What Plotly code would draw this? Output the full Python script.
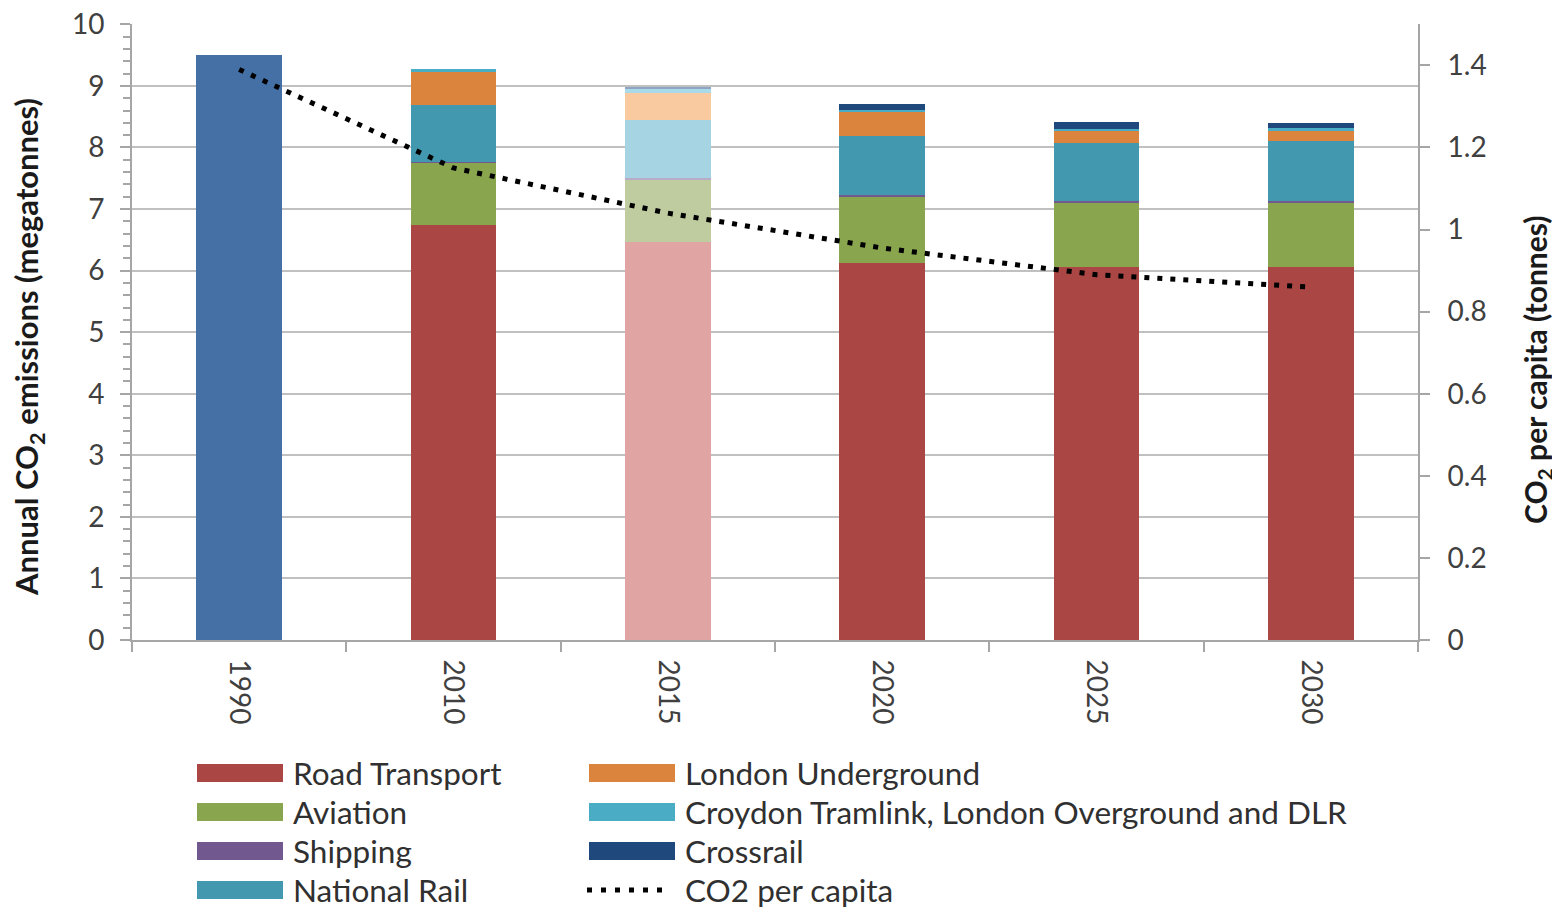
import plotly.graph_objects as go

# categories (years)
years = ["1990", "2010", "2015", "2020", "2025", "2030"]

# stacked emissions by mode, megatonnes (1990 is a single total bar)
total_1990 = [9.5, None, None, None, None, None]
road_transport = [None, 6.74, 6.46, 6.13, 6.06, 6.06]
aviation = [None, 1.01, 1.02, 1.07, 1.05, 1.05]
shipping = [None, 0.02, 0.02, 0.02, 0.02, 0.02]
national_rail = [None, 0.92, 0.95, 0.97, 0.95, 0.98]
london_underground = [None, 0.53, 0.44, 0.39, 0.18, 0.17]
croydon_overground_dlr = [None, 0.05, 0.06, 0.03, 0.04, 0.03]
crossrail = [None, 0.0, 0.02, 0.10, 0.11, 0.09]

# CO2 per capita, tonnes (right axis)
co2_per_capita = [1.39, 1.15, 1.04, 0.955, 0.89, 0.86]

series = [
    ("Road Transport", road_transport, "#AA4643", "#E0A4A3"),
    ("Aviation", aviation, "#89A54E", "#BFCC9F"),
    ("Shipping", shipping, "#71588F", "#B8ACC8"),
    ("National Rail", national_rail, "#4198AF", "#A6D4E2"),
    ("London Underground", london_underground, "#DB843D", "#F9C9A0"),
    ("Croydon Tramlink, London Overground and DLR", croydon_overground_dlr, "#4BACC6", "#A8DAEA"),
    ("Crossrail", crossrail, "#1F497D", "#8FA4C0"),
]

FONT = "Lato"
TICK_COL = "#404040"
AXIS_COL = "#A6A6A6"

# page body adds an 8px offset, so the figure is a bit smaller than the window
OFF = 8
W, H = 1560 - OFF, 907 - OFF
L, R, T, B = 132 - OFF, 142, 24 - OFF, 267

fig = go.Figure()

fig.add_trace(go.Bar(x=years, y=total_1990, name="Total", marker=dict(color="#4470A6", line=dict(width=0)),
                     showlegend=False))

for name, vals, col, faded in series:
    # 2015 is shown in paler shades
    cols = [faded if yr == "2015" else col for yr in years]
    fig.add_trace(go.Bar(x=years, y=vals, name=name, marker=dict(color=cols, line=dict(width=0)),
                         showlegend=False))

fig.add_trace(go.Scatter(x=years, y=co2_per_capita, name="CO2 per capita", yaxis="y2", mode="lines",
                         line=dict(color="black", width=5, dash="5px,8px"), showlegend=False))

fig.update_layout(
    width=W, height=H,
    margin=dict(l=L, r=R, t=T, b=B),
    barmode="stack", bargap=0.6,
    plot_bgcolor="white", paper_bgcolor="white",
    font=dict(family=FONT, size=28, color=TICK_COL),
    xaxis=dict(type="category", tickson="boundaries", ticks="outside", ticklen=10, tickwidth=2,
               tickcolor=AXIS_COL, tickangle=90, showline=True, linecolor=AXIS_COL, linewidth=2,
               ticklabelstandoff=12, automargin=False,
               tickfont=dict(size=28, color=TICK_COL)),
    yaxis=dict(range=[0, 10.005], tickvals=list(range(0, 11)), showgrid=True, gridcolor="#C0C0C0", gridwidth=2,
               ticks="outside", ticklen=10, tickwidth=2, tickcolor=AXIS_COL,
               minor=dict(dtick=0.2, ticks="outside", ticklen=7, tickwidth=2, tickcolor=AXIS_COL, showgrid=False),
               showline=True, linecolor=AXIS_COL, linewidth=2, zeroline=False, automargin=False,
               ticklabelstandoff=10, ticklabeloverflow="allow",
               tickfont=dict(size=28, color=TICK_COL)),
    yaxis2=dict(range=[0, 1.50075], tickvals=[0, 0.2, 0.4, 0.6, 0.8, 1, 1.2, 1.4], overlaying="y", side="right",
                showgrid=False, zeroline=False, ticks="outside", ticklen=10, tickwidth=2, tickcolor=AXIS_COL,
                showline=True, linecolor=AXIS_COL, linewidth=2, automargin=False,
                ticklabelstandoff=12, ticklabeloverflow="allow",
                tickfont=dict(size=28, color=TICK_COL)),
)

# positions given in window pixels, converted to paper coordinates
pw, ph = W - L - R, H - T - B
def px(xp):
    return (xp - OFF - L) / pw
def py(yp):
    return (H - B - (yp - OFF)) / ph

# axis titles (rotated, placed like the original)
fig.add_annotation(xref="paper", yref="paper", x=px(28), y=py(347), textangle=-90, showarrow=False,
                   xanchor="center", yanchor="middle", text="Annual CO<sub>2</sub> emissions (megatonnes)",
                   font=dict(family=FONT, size=31, color="#1a1a1a", weight="bold"))
fig.add_annotation(xref="paper", yref="paper", x=px(1537), y=py(370), textangle=-90, showarrow=False,
                   xanchor="center", yanchor="middle", text="CO<sub>2</sub> per capita (tonnes)",
                   font=dict(family=FONT, size=30, color="#1a1a1a", weight="bold"))

# custom legend: two columns of wide swatches under the plot
legend_cols = [
    [(s[0], s[2]) for s in series[:4]],
    [(s[0], s[2]) for s in series[4:]] + [("CO2 per capita", None)],
]
col_x = [197, 589]
row_y = [773, 812, 851, 890]
sw_w, sw_h = 86, 18

for ci, items in enumerate(legend_cols):
    x0 = col_x[ci]
    for ri, (label, col) in enumerate(items):
        yc = row_y[ri]
        if col is not None:
            fig.add_shape(type="rect", xref="paper", yref="paper",
                          x0=px(x0), x1=px(x0 + sw_w), y0=py(yc + sw_h / 2), y1=py(yc - sw_h / 2),
                          fillcolor=col, line=dict(width=0))
        else:
            fig.add_shape(type="line", xref="paper", yref="paper",
                          x0=px(x0 - 2), x1=px(x0 + 82), y0=py(yc), y1=py(yc),
                          line=dict(color="black", width=5, dash="5px,9px"))
        fig.add_annotation(xref="paper", yref="paper", x=px(x0 + sw_w + 8), y=py(yc),
                           xanchor="left", yanchor="middle", showarrow=False, text=label,
                           font=dict(family=FONT, size=31.5, color="#303030"))

fig.write_html("out.html")
